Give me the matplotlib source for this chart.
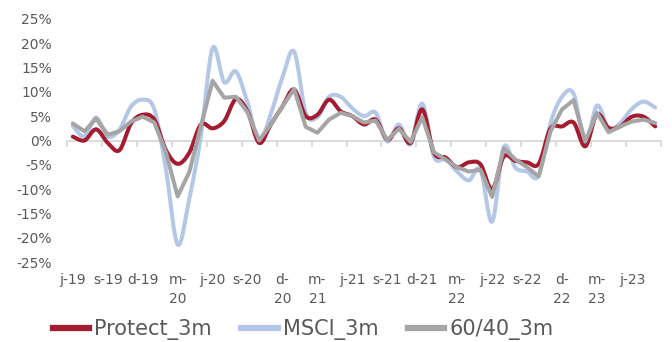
import numpy as np
import matplotlib
matplotlib.use("Agg")
import matplotlib.pyplot as plt
from matplotlib.path import Path
from matplotlib.patches import PathPatch
from matplotlib.lines import Line2D
from matplotlib.ticker import FuncFormatter, MultipleLocator

# ---- data (monthly, Jun-2019 .. Aug-2023), values in % ----
tick_labels = ["j-19", "s-19", "d-19", "m-\n20", "j-20", "s-20", "d-\n20", "m-\n21",
               "j-21", "s-21", "d-21", "m-\n22", "j-22", "s-22", "d-\n22", "m-\n23", "j-23"]

protect = [0.8, 0.0, 2.3, -0.5, -2.0, 3.5, 5.3, 4.3, -2.0, -4.8, -2.5, 3.3, 2.5, 4.0, 8.5,
           6.0, -0.5, 3.3, 7.0, 10.5, 5.0, 5.3, 8.4, 6.0, 5.0, 3.3, 4.3, 0.2, 2.5, -0.5,
           6.4, -2.5, -3.5, -5.5, -4.5, -4.9, -10.0, -3.3, -4.2, -4.5, -4.8, 2.4, 2.9, 3.7,
           -1.2, 5.4, 2.6, 2.9, 4.9, 4.9, 2.9]
msci = [3.0, 0.8, 4.7, 0.8, 2.2, 7.0, 8.4, 6.4, -6.0, -21.4, -12.0, 1.0, 19.0, 12.0, 14.2,
        7.8, -0.2, 5.5, 13.0, 18.3, 5.7, 4.8, 9.0, 9.0, 6.6, 5.0, 5.7, -0.2, 3.3, -0.8,
        7.6, -3.3, -3.9, -6.4, -8.2, -6.0, -16.7, -1.4, -5.6, -6.4, -7.2, 3.5, 9.0, 9.6,
        -0.5, 7.2, 2.5, 3.6, 6.5, 8.0, 6.8]
sixty_forty = [3.5, 1.9, 4.5, 1.2, 1.9, 3.9, 4.9, 3.7, -2.5, -11.5, -6.5, 3.0, 12.3, 8.8, 9.0,
               5.8, 0.0, 3.3, 7.0, 10.6, 2.8, 1.6, 4.3, 5.7, 5.0, 3.7, 4.1, 0.1, 2.4, -0.3,
               4.8, -2.4, -3.9, -5.5, -6.4, -6.0, -11.6, -1.6, -3.9, -5.5, -7.4, 1.8, 6.4, 8.3,
               -0.2, 5.7, 1.7, 2.9, 3.9, 4.3, 3.6]

series_names = ["Protect_3m", "MSCI_3m", "60/40_3m"]
colors = {"Protect_3m": "#A51C30", "MSCI_3m": "#B4C7E7", "60/40_3m": "#A5A5A5"}

plt.rcParams['font.family'] = ['DejaVu Sans']
fig = plt.figure(figsize=(6.72, 3.42), dpi=100)
ax = fig.add_axes([67/672, 1-262/342, (661-67)/672, (262-19)/342])

def smooth_path(x, y):
    # Excel-like smoothed line: cubic Bezier segments through the data points
    pts = np.column_stack([x, y]).astype(float)
    n = len(pts)
    verts = [pts[0]]
    codes = [Path.MOVETO]
    for i in range(n - 1):
        p0 = pts[i - 1] if i > 0 else pts[i]
        p1 = pts[i]
        p2 = pts[i + 1]
        p3 = pts[i + 2] if i + 2 < n else pts[i + 1]
        c1 = p1 + (p2 - p0) / 6.0
        c2 = p2 - (p3 - p1) / 6.0
        verts += [c1, c2, p2]
        codes += [Path.CURVE4] * 3
    return Path(verts, codes)

x = np.arange(len(protect))
lw = 2.9
ax.add_patch(PathPatch(smooth_path(x, msci), fill=False, edgecolor=colors["MSCI_3m"],
                       lw=lw, capstyle='round', joinstyle='round', zorder=2))
ax.add_patch(PathPatch(smooth_path(x, protect), fill=False, edgecolor=colors["Protect_3m"],
                       lw=lw, capstyle='round', joinstyle='round', zorder=3))
ax.plot(x, sixty_forty, color=colors["60/40_3m"], lw=lw, solid_capstyle='round',
        solid_joinstyle='round', zorder=4)

ax.set_xlim(-0.5, len(protect) - 0.5)
ax.set_ylim(-25, 25)
ax.yaxis.set_major_locator(MultipleLocator(5))
ax.yaxis.set_major_formatter(FuncFormatter(lambda v, p: f"{v:.0f}%"))
ax.tick_params(axis='y', length=0, pad=11, labelsize=10, labelcolor="#595959")

for s in ["top", "right", "left"]:
    ax.spines[s].set_visible(False)
ax.spines["bottom"].set_position(("data", 0))
ax.spines["bottom"].set_color("#D9D9D9")
ax.spines["bottom"].set_linewidth(1.3)
ax.spines["bottom"].set_zorder(1)
ax.set_xticks(np.arange(-0.5, len(protect), 3))
ax.tick_params(axis='x', which='major', length=4, width=1.3, color="#D9D9D9", labelbottom=False)

sec = ax.secondary_xaxis('bottom')
sec.set_xticks(np.arange(0, len(protect), 3))
sec.set_xticklabels(tick_labels, linespacing=1.45, va='top')
sec.tick_params(length=0, pad=8, labelsize=10, labelcolor="#595959")
sec.spines["bottom"].set_visible(False)

handles = [Line2D([], [], color=colors[n], lw=4.5) for n in series_names]
leg = fig.legend(handles, series_names, loc='center', bbox_to_anchor=(303/672, 1-330/342),
                 ncol=3, frameon=False, fontsize=15, handlelength=1.75, handletextpad=0.25,
                 columnspacing=1.4, labelcolor="#595959", borderaxespad=0, borderpad=0)

fig.savefig("out.png", dpi=100)
